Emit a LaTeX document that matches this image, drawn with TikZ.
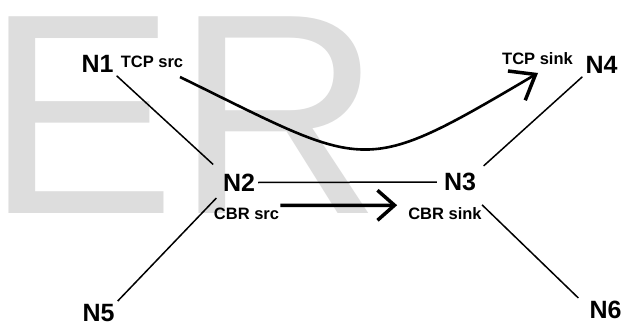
\documentclass[tikz,border=0pt]{standalone}
\usepackage{fontspec}
\setmainfont{Liberation Sans}
\usetikzlibrary{arrows.meta}
\definecolor{wm}{RGB}{221,221,221}
\begin{document}
\begin{tikzpicture}[x=1pt,y=-1pt,
  nlab/.style={font=\fontsize{25}{25}\selectfont\bfseries, inner sep=3pt},
  tlab/.style={font=\fontsize{16.5}{16.5}\selectfont\bfseries, inner sep=1pt},
  link/.style={line width=1.5pt},
  flow/.style={line width=3.5pt},
  ]
\useasboundingbox[fill=white] (0,0) rectangle (623,326);
% watermark
\node[anchor=base west, inner sep=0pt, text=wm, font=\fontsize{286}{286}\selectfont] (wmark) at (-15,213) {ER};
% nodes
\node[nlab] (n1) at (97.5,64) {N1};
\node[nlab] (n2) at (239,182.5) {N2};
\node[nlab] (n3) at (460,182) {N3};
\node[nlab] (n4) at (601.5,65) {N4};
\node[nlab] (n5) at (98.5,313) {N5};
\node[nlab] (n6) at (605.5,310) {N6};
\node[tlab] (tsrc) at (152,61.5) {TCP src};
\node[tlab] (tsink) at (537.5,59) {TCP sink};
\node[tlab] (csrc) at (246.5,213.5) {CBR src};
\node[tlab] (csink) at (445,213.5) {CBR sink};
% links
\draw[link,shorten >=9pt] (n1.south east) -- (n2.north west);
\draw[link,shorten >=4pt] (n2.east) -- (n3.west);
\draw[link,shorten <=5pt] (n2.south west) -- (n5.north east);
\draw[link,shorten <=6pt] (n3.north east) -- (n4.south west);
\draw[link,shorten <=4pt] ([yshift=-8pt]n3.south east) -- ([xshift=-8pt]n6.north west);
% flows
\draw[flow,-{Straight Barb[length=17pt,width=30pt]}] ([yshift=1pt]csrc.north east) -- ([xshift=-10pt,yshift=1pt]csink.north west);
\coordinate (tcpa) at (180,77);
\coordinate (tcpb) at (538,73);
\draw[line width=2.6pt,-{Straight Barb[length=22pt,width=34pt,line width=3.5pt]}] (tcpa) .. controls (370,170) and (360,178) .. (tcpb);
\end{tikzpicture}
\end{document}
